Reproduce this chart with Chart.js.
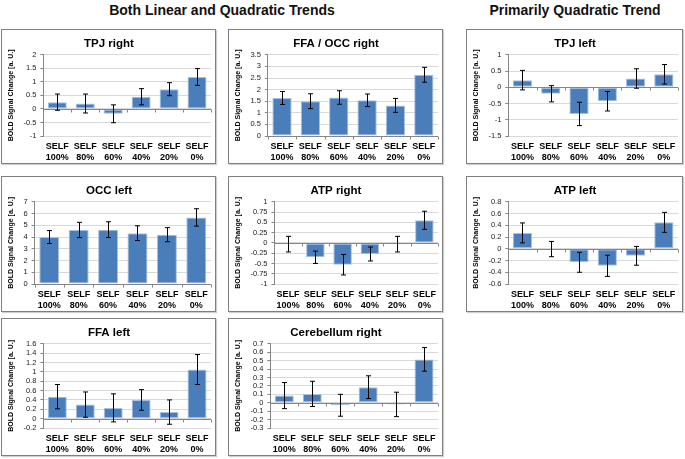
<!DOCTYPE html>
<html>
<head>
<meta charset="utf-8">
<script src="https://cdn.jsdelivr.net/npm/chart.js@4"></script>
<style>
  body { margin: 0; background: #fff; font-family: "Liberation Sans", Arial, sans-serif; }
  #page { position: relative; width: 685px; height: 459px; overflow: hidden; }
  .heading { position: absolute; top: 2px; font: bold 14px "Liberation Sans", Arial, sans-serif; color: #111; white-space: nowrap; transform: translateX(-50%); }
  .panel { position: absolute; border: 1px solid #7f7f7f; box-sizing: border-box; background: #fff; box-shadow: 1px 1px 1px #d0d0d0; }
  .panel canvas { display: block; }
</style>
</head>
<body>
<div id="page">
  <div class="heading" style="left:222px">Both Linear and Quadratic Trends</div>
  <div class="heading" style="left:575px">Primarily Quadratic Trend</div>
</div>
<script>
// category tick labels (two lines each)
const categories = [["SELF", "100%"], ["SELF", "80%"], ["SELF", "60%"], ["SELF", "40%"], ["SELF", "20%"], ["SELF", "0%"]]

// mean BOLD signal change and error bar half-widths, per region
const tpjRightValues = [0.25, 0.2, -0.18, 0.45, 0.73, 1.18]
const tpjRightErrors = [0.3, 0.35, 0.33, 0.3, 0.24, 0.31]

const ffaOccRightValues = [1.64, 1.5, 1.66, 1.54, 1.32, 2.64]
const ffaOccRightErrors = [0.28, 0.32, 0.29, 0.27, 0.3, 0.32]

const tpjLeftValues = [0.22, -0.2, -0.82, -0.43, 0.27, 0.4]
const tpjLeftErrors = [0.3, 0.25, 0.36, 0.3, 0.3, 0.3]

const occLeftValues = [4.0, 4.6, 4.63, 4.33, 4.2, 5.67]
const occLeftErrors = [0.55, 0.65, 0.67, 0.63, 0.6, 0.74]

const atpRightValues = [-0.03, -0.35, -0.53, -0.27, -0.03, 0.55]
const atpRightErrors = [0.19, 0.15, 0.25, 0.17, 0.19, 0.22]

const atpLeftValues = [0.27, -0.005, -0.23, -0.29, -0.12, 0.45]
const atpLeftErrors = [0.17, 0.13, 0.17, 0.18, 0.16, 0.17]

const ffaLeftValues = [0.47, 0.3, 0.23, 0.4, 0.14, 1.05]
const ffaLeftErrors = [0.26, 0.27, 0.3, 0.22, 0.26, 0.32]

const cerebellumRightValues = [0.085, 0.105, -0.03, 0.185, -0.02, 0.515]
const cerebellumRightErrors = [0.155, 0.15, 0.13, 0.135, 0.145, 0.14]

// y axis ranges: [min, max, step]
const tpjRightAxis = [-1, 2, 0.5]
const ffaOccRightAxis = [0, 3.5, 0.5]
const tpjLeftAxis = [-1.5, 1, 0.5]
const occLeftAxis = [0, 7, 1]
const atpRightAxis = [-1, 1, 0.25]
const atpLeftAxis = [-0.6, 0.8, 0.2]
const ffaLeftAxis = [-0.2, 1.6, 0.2]
const cerebellumRightAxis = [-0.3, 0.7, 0.1]

const yTitle = "BOLD Signal Change [a. U.]"

const panels = [
    { title: "TPJ right", values: tpjRightValues, errors: tpjRightErrors, axis: tpjRightAxis, x: 1, y: 29, w: 215, h: 135 },
    { title: "FFA / OCC right", values: ffaOccRightValues, errors: ffaOccRightErrors, axis: ffaOccRightAxis, x: 228, y: 29, w: 215, h: 135 },
    { title: "TPJ left", values: tpjLeftValues, errors: tpjLeftErrors, axis: tpjLeftAxis, x: 466, y: 29, w: 217, h: 135 },
    { title: "OCC left", values: occLeftValues, errors: occLeftErrors, axis: occLeftAxis, x: 1, y: 176, w: 215, h: 136 },
    { title: "ATP right", values: atpRightValues, errors: atpRightErrors, axis: atpRightAxis, x: 228, y: 176, w: 215, h: 136 },
    { title: "ATP left", values: atpLeftValues, errors: atpLeftErrors, axis: atpLeftAxis, x: 466, y: 176, w: 217, h: 136 },
    { title: "FFA left", values: ffaLeftValues, errors: ffaLeftErrors, axis: ffaLeftAxis, x: 1, y: 318, w: 215, h: 138 },
    { title: "Cerebellum right", values: cerebellumRightValues, errors: cerebellumRightErrors, axis: cerebellumRightAxis, x: 228, y: 318, w: 215, h: 138 },
]

/**
 * Zero line with category tick marks, then error bars on top of the bars
 */
const errorBarPlugin = {
    id: "errorBars",
    afterDatasetsDraw(chart) {
        const ctx = chart.ctx
        const area = chart.chartArea
        const yScale = chart.scales.y
        const xScale = chart.scales.x
        const y0 = Math.round(yScale.getPixelForValue(0)) + 0.5
        ctx.save()
        ctx.strokeStyle = "#868686"
        ctx.lineWidth = 1
        ctx.beginPath()
        ctx.moveTo(area.left, y0)
        ctx.lineTo(area.right, y0)
        const n = chart.data.labels.length
        for (let i = 0; i <= n; i++) {
            const x = Math.round(area.left + i * (area.right - area.left) / n) + 0.5
            ctx.moveTo(x, y0)
            ctx.lineTo(x, y0 + 3)
        }
        ctx.stroke()

        const ds = chart.data.datasets[0]
        ctx.strokeStyle = "#000"
        ctx.beginPath()
        ds.data.forEach((v, i) => {
            const x = Math.round(xScale.getPixelForValue(i)) + 0.5
            const top = yScale.getPixelForValue(v + ds.errors[i])
            const bot = yScale.getPixelForValue(v - ds.errors[i])
            ctx.moveTo(x, top)
            ctx.lineTo(x, bot)
            ctx.moveTo(x - 2.5, top)
            ctx.lineTo(x + 2.5, top)
            ctx.moveTo(x - 2.5, bot)
            ctx.lineTo(x + 2.5, bot)
        })
        ctx.stroke()
        ctx.restore()
    }
}

const fontFamily = "'Liberation Sans', Arial, sans-serif"

function drawPanel(p) {
    const page = document.getElementById("page")
    const box = document.createElement("div")
    box.className = "panel"
    box.style.left = p.x + "px"
    box.style.top = p.y + "px"
    box.style.width = p.w + "px"
    box.style.height = p.h + "px"
    const canvas = document.createElement("canvas")
    canvas.width = p.w - 2
    canvas.height = p.h - 2
    canvas.style.width = (p.w - 2) + "px"
    canvas.style.height = (p.h - 2) + "px"
    box.appendChild(canvas)
    page.appendChild(box)

    const [min, max, step] = p.axis
    new Chart(canvas, {
        type: "bar",
        data: {
            labels: categories,
            datasets: [{
                data: p.values,
                errors: p.errors,
                backgroundColor: "#4a7ebb",
                borderColor: "#a9c1e0",
                borderWidth: 1,
                borderSkipped: false,
                barPercentage: 1,
                categoryPercentage: 0.68,
            }]
        },
        options: {
            responsive: false,
            animation: false,
            devicePixelRatio: 1,
            layout: { padding: { top: 2, right: 4, bottom: 0, left: 5 } },
            plugins: {
                legend: { display: false },
                tooltip: { enabled: false },
                title: {
                    display: true,
                    text: p.title,
                    color: "#000",
                    font: { family: fontFamily, size: 11.5, weight: "bold" },
                    padding: { top: 5, bottom: 4 },
                },
            },
            scales: {
                x: {
                    grid: { display: false, drawTicks: false },
                    border: { display: false },
                    ticks: {
                        color: "#000",
                        font: { family: fontFamily, size: 9, weight: "bold", lineHeight: 1.2 },
                        maxRotation: 0,
                        autoSkip: false,
                        padding: 5,
                    },
                    afterFit: (scale) => { scale.height = 27 },
                },
                y: {
                    min: min,
                    max: max,
                    ticks: {
                        stepSize: step,
                        autoSkip: false,
                        color: "#222",
                        font: { family: fontFamily, size: 7.5 },
                        padding: 4,
                        callback: (v) => String(Number(v.toFixed(2))),
                    },
                    grid: { color: "#d9d9d9", tickColor: "#868686", tickLength: 3 },
                    border: { display: true, color: "#868686" },
                    title: {
                        display: true,
                        text: yTitle,
                        color: "#000",
                        font: { family: fontFamily, size: 7, weight: "bold" },
                        padding: { top: 0, bottom: 4 },
                    },
                },
            },
        },
        plugins: [errorBarPlugin],
    })
}

panels.forEach(drawPanel)
</script>
</body>
</html>
